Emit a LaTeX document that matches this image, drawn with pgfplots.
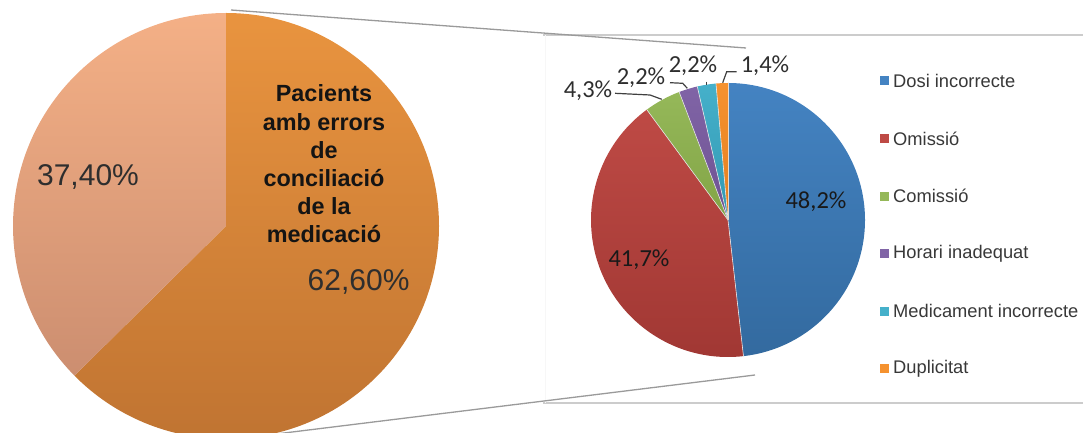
\documentclass[border=0pt]{standalone}
\usepackage{pgfplots}
\pgfplotsset{compat=1.18}
\usepackage{pgfplotstable}
\usepackage{fontspec}
\setmainfont{Liberation Sans}
\newfontfamily\calib{Carlito}

% colours
\definecolor{mainTop0}{HTML}{E9943F}
\definecolor{mainBot0}{HTML}{C07432}
\definecolor{mainTop1}{HTML}{F4B086}
\definecolor{mainBot1}{HTML}{CC8E70}
\definecolor{errTop0}{HTML}{4483C2}
\definecolor{errBot0}{HTML}{336A9F}
\definecolor{errTop1}{HTML}{BE4A45}
\definecolor{errBot1}{HTML}{A03733}
\definecolor{errTop2}{HTML}{95B859}
\definecolor{errBot2}{HTML}{82A446}
\definecolor{errTop3}{HTML}{8064A6}
\definecolor{errBot3}{HTML}{6E5292}
\definecolor{errTop4}{HTML}{45B0CA}
\definecolor{errBot4}{HTML}{3399B3}
\definecolor{errTop5}{HTML}{F5922F}
\definecolor{errBot5}{HTML}{E67F1F}
\definecolor{boxline}{HTML}{CCCCCC}
\definecolor{diagline}{HTML}{9A9A9A}

% data
\pgfplotstableread[col sep=comma]{
label,value
Pacients amb errors de conciliació de la medicació,62.6
Sense errors,37.4
}\mainpie
\pgfplotstableread[col sep=comma]{
label,value
Dosi incorrecte,48.2
Omissió,41.7
Comissió,4.3
Horari inadequat,2.2
Medicament incorrecte,2.2
Duplicitat,1.4
}\errpie

% cumulative angles (clockwise from 12 o'clock)
\newcommand\pieangles[2]{%
  \gdef\acc{90}%
  \pgfplotstablegetrowsof{#1}%
  \pgfmathtruncatemacro\nlast{\pgfplotsretval-1}%
  \foreach \i in {0,...,\nlast}{%
    \pgfplotstablegetelem{\i}{value}\of#1%
    \pgfmathsetmacro\s{\acc}%
    \pgfmathsetmacro\e{\acc-3.6*\pgfplotsretval}%
    \expandafter\xdef\csname #2S\i\endcsname{\s}%
    \expandafter\xdef\csname #2E\i\endcsname{\e}%
    \xdef\acc{\e}%
  }%
}
\pieangles{\mainpie}{main}
\pieangles{\errpie}{err}

\begin{document}
\begin{tikzpicture}
\begin{axis}[
  x=1pt, y=1pt,
  xmin=0, xmax=1083, ymin=0, ymax=433,
  hide axis,
  clip=true,
]
% box and connector lines
\draw[boxline, line width=1.3pt] (543,398) -- (1083,398);
\draw[boxline, line width=1.3pt] (543,30) -- (1083,30);
\draw[black!3, line width=0.8pt] (545,30) -- (545,398);
\draw[diagline, line width=1.3pt] (231,423) -- (746,385);
\draw[diagline, line width=1.3pt] (276,-1) -- (755,58);

% left pie
\pgfplotsinvokeforeach{0,1}{%
  \edef\temp{\noexpand\shade[top color=mainTop#1, bottom color=mainBot#1]
    (axis cs:226,207) -- ++(\csname mainS#1\endcsname:213pt)
    arc[start angle=\csname mainS#1\endcsname, end angle=\csname mainE#1\endcsname, radius=213pt] -- cycle;}%
  \temp
}

% right pie
\pgfplotsinvokeforeach{0,...,5}{%
  \edef\temp{\noexpand\shade[top color=errTop#1, bottom color=errBot#1]
    (axis cs:728,213) -- ++(\csname errS#1\endcsname:137pt)
    arc[start angle=\csname errS#1\endcsname, end angle=\csname errE#1\endcsname, radius=137pt] -- cycle;}%
  \temp
  \edef\temp{\noexpand\draw[white!80!gray, line width=0.6pt]
    (axis cs:728,213) -- ++(\csname errS#1\endcsname:137pt);}%
  \temp
}

% left pie labels
\node[inner sep=0pt, text=black!82, font=\fontsize{30}{36}\selectfont] at (88,256.3) {37,40\%};
\node[inner sep=0pt, text=black!82, font=\fontsize{30}{36}\selectfont] at (358.6,151.3) {62,60\%};
\node[inner sep=0pt, align=center, text=black!92, font=\fontsize{23.4}{28.2}\selectfont\bfseries] at (324,269) {Pacients\\amb errors\\de\\conciliació\\de la\\medicació};

% right pie labels
\node[inner sep=0pt, text=black!90, font=\calib\fontsize{24.5}{28}\selectfont] at (816,231) {48,2\%};
\node[inner sep=0pt, text=black!90, font=\calib\fontsize{24.5}{28}\selectfont] at (639,173) {41,7\%};
\node[inner sep=0pt, text=black!82, font=\calib\fontsize{24.5}{28}\selectfont] at (588,342) {4,3\%};
\node[inner sep=0pt, text=black!82, font=\calib\fontsize{24.5}{28}\selectfont] at (641,355) {2,2\%};
\node[inner sep=0pt, text=black!82, font=\calib\fontsize{24.5}{28}\selectfont] at (693,367) {2,2\%};
\node[inner sep=0pt, text=black!82, font=\calib\fontsize{24.5}{28}\selectfont] at (765,367) {1,4\%};
% leader lines
\draw[black!75, line width=1.2pt] (615,339.7) -- (650,338) -- (661.7,333.7);
\draw[black!75, line width=1.2pt] (670,350.3) -- (682.7,349.7) -- (687.3,344.7);
\draw[black!75, line width=1.2pt] (706.7,351.3) -- (706.7,348);
\draw[black!75, line width=1.2pt] (736.7,361.3) -- (726.7,361.3) -- (722.7,350.3);

% legend
\pgfplotsinvokeforeach{0,...,5}{%
  \edef\temp{\noexpand\fill[errTop#1] (axis cs:880,{352-57.6*#1-4.5}) rectangle (axis cs:889,{352-57.6*#1+4.5});}%
  \temp
}
\node[anchor=west, inner sep=0pt, text=black!78, font=\fontsize{18.3}{22}\selectfont] at (893,352) {Dosi incorrecte};
\node[anchor=west, inner sep=0pt, text=black!78, font=\fontsize{18.3}{22}\selectfont] at (893,294.4) {Omissió};
\node[anchor=west, inner sep=0pt, text=black!78, font=\fontsize{18.3}{22}\selectfont] at (893,236.8) {Comissió};
\node[anchor=west, inner sep=0pt, text=black!78, font=\fontsize{18.3}{22}\selectfont] at (893,179.2) {Horari inadequat};
\node[anchor=west, inner sep=0pt, text=black!78, font=\fontsize{18.3}{22}\selectfont] at (893,121.6) {Medicament incorrecte};
\node[anchor=west, inner sep=0pt, text=black!78, font=\fontsize{18.3}{22}\selectfont] at (893,64) {Duplicitat};
\end{axis}
\pgfresetboundingbox
\useasboundingbox (current axis.south west) rectangle (current axis.north east);
\end{tikzpicture}
\end{document}
